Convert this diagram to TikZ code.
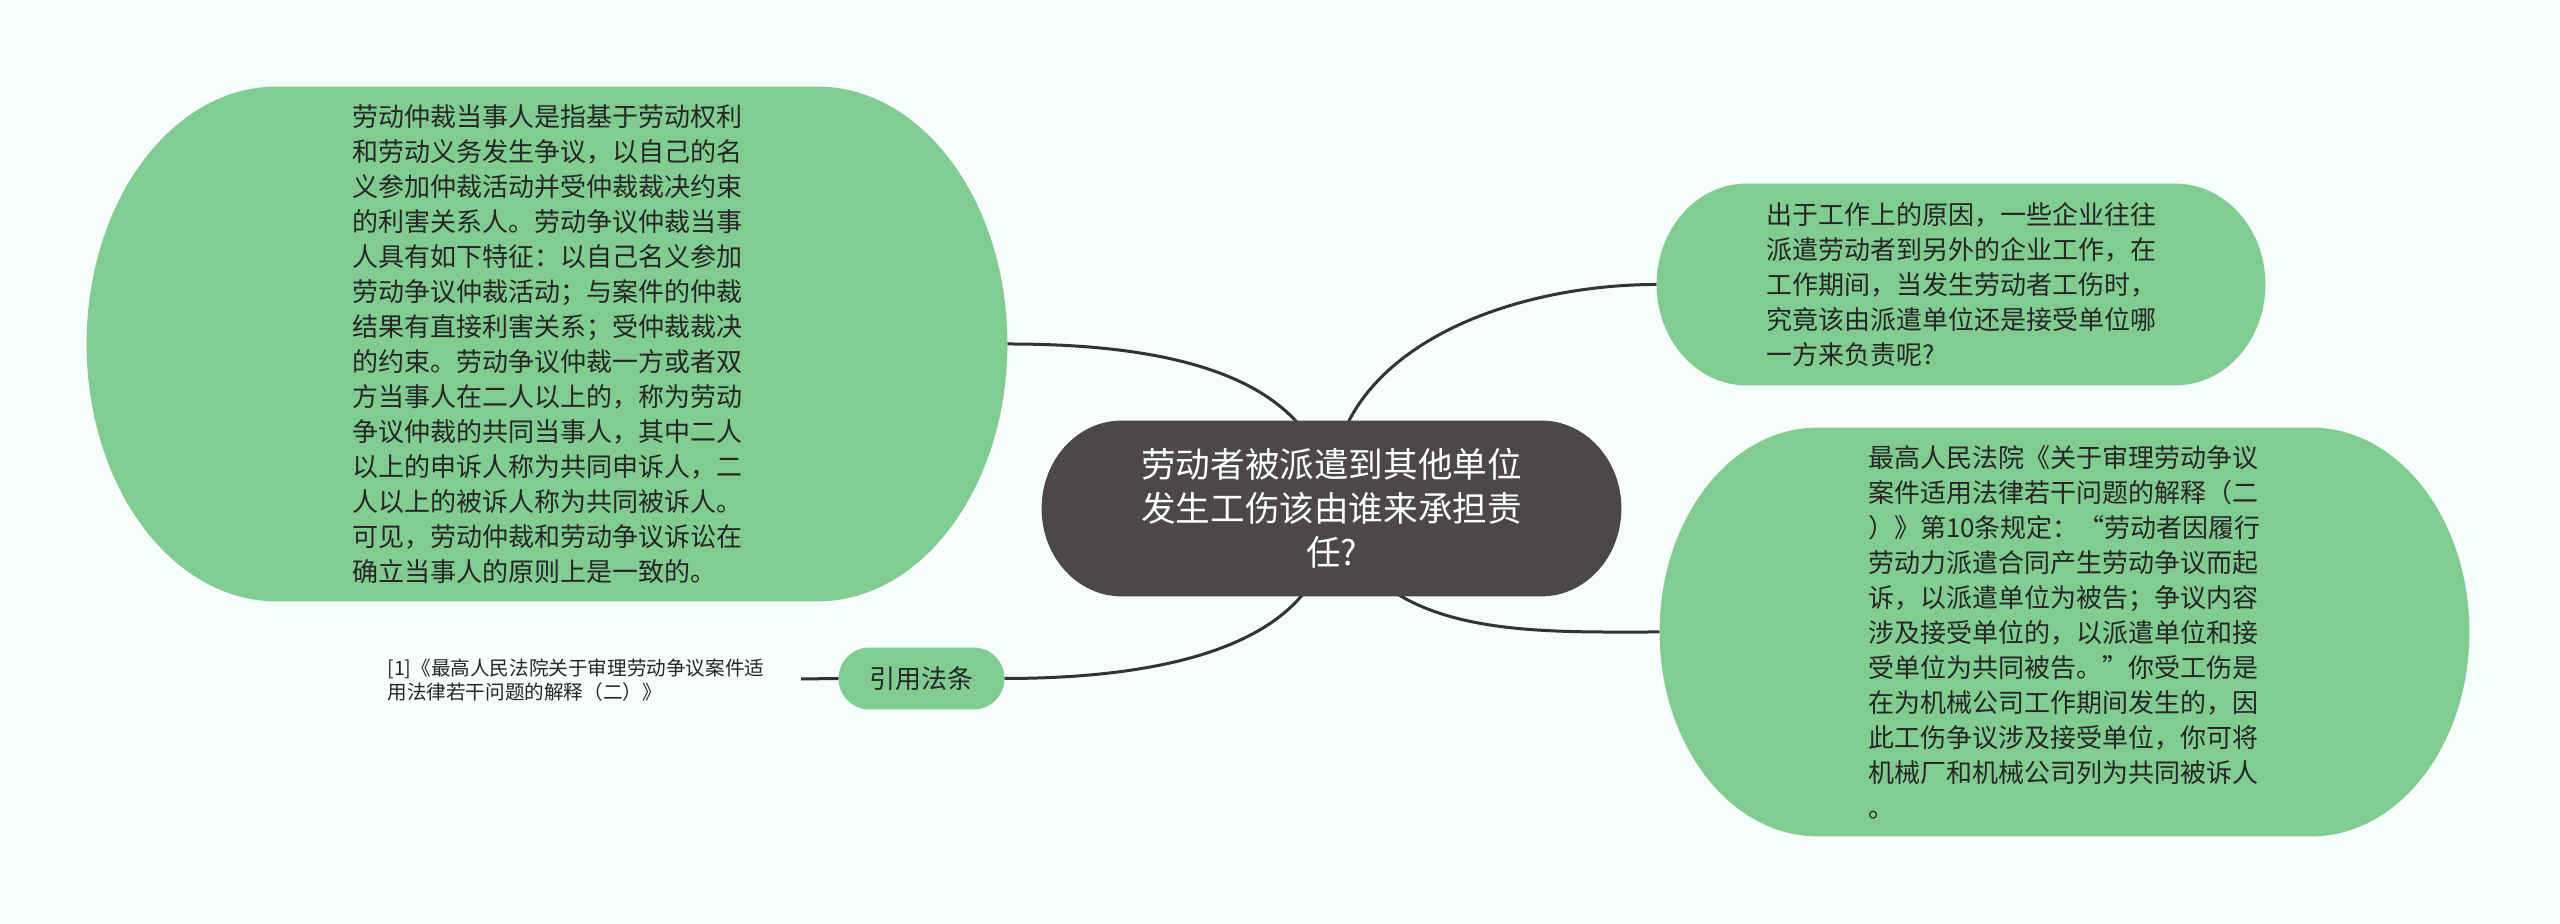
\documentclass[tikz,border=0pt]{standalone}
\usepackage{fontspec}
\setmainfont{Noto Sans CJK SC}
\usetikzlibrary{calc,backgrounds}
\definecolor{bgc}{HTML}{F7FCFC}
\definecolor{leaf}{HTML}{80CC91}
\definecolor{rootc}{HTML}{4D4848}
\definecolor{linec}{HTML}{333333}
\definecolor{txt}{HTML}{262626}
\newcommand\pillbg[3]{%
 \fill[#3] let \p1=(#1.north west), \p2=(#1.south east), \n1={(\y1-\y2)/2} in
 (\x1+#2,\y1) -- (\x2-#2,\y1)
 arc[start angle=90,end angle=-90,x radius=#2,y radius=\n1]
 -- (\x1+#2,\y2)
 arc[start angle=270,end angle=90,x radius=#2,y radius=\n1] -- cycle;}
\tikzset{
 leaftext/.style={align=left, inner sep=0pt, text=txt,
   font=\fontsize{13pt}{17.5pt}\selectfont},
 roottext/.style={align=center, inner sep=0pt, text=white,
   font=\fontsize{17.3pt}{22pt}\selectfont},
 reftext/.style={align=left, inner sep=0pt, text=txt, anchor=west,
   font=\fontsize{9.8pt}{12.2pt}\selectfont},
 conn/.style={draw=linec, line width=1.5pt},
}
\begin{document}
\begin{tikzpicture}[x=0.5pt,y=0.5pt]
\useasboundingbox (0,0) rectangle (2560,924);
\node[roottext, minimum width=289.5pt, minimum height=87.5pt] (M) at (1331.5,415.5)
 {劳动者被派遣到其他单位\\发生工伤该由谁来承担责\\任?};
\node[leaftext, minimum width=460pt, minimum height=257pt] (L) at (547,580)
 {劳动仲裁当事人是指基于劳动权利\\和劳动义务发生争议，以自己的名\\义参加仲裁活动并受仲裁裁决约束\\的利害关系人。劳动争议仲裁当事\\人具有如下特征：以自己名义参加\\劳动争议仲裁活动；与案件的仲裁\\结果有直接利害关系；受仲裁裁决\\的约束。劳动争议仲裁一方或者双\\方当事人在二人以上的，称为劳动\\争议仲裁的共同当事人，其中二人\\以上的申诉人称为共同申诉人，二\\人以上的被诉人称为共同被诉人。\\可见，劳动仲裁和劳动争议诉讼在\\确立当事人的原则上是一致的。};
\node[leaftext, minimum width=304pt, minimum height=100.5pt] (TR) at (1961,639.5)
 {出于工作上的原因，一些企业往往\\派遣劳动者到另外的企业工作，在\\工作期间，当发生劳动者工伤时，\\究竟该由派遣单位还是接受单位哪\\一方来负责呢?};
\node[leaftext, minimum width=404.5pt, minimum height=204pt] (BR) at (2064.5,292)
 {最高人民法院《关于审理劳动争议\\案件适用法律若干问题的解释（二\\）》第10条规定：“劳动者因履行\\劳动力派遣合同产生劳动争议而起\\诉，以派遣单位为被告；争议内容\\涉及接受单位的，以派遣单位和接\\受单位为共同被告。”你受工伤是\\在为机械公司工作期间发生的，因\\此工伤争议涉及接受单位，你可将\\机械厂和机械公司列为共同被诉人\\。};
\node[leaftext, align=center, minimum width=82.5pt, minimum height=30.5pt] (C) at (921.5,245.5) {引用法条};
\node[reftext] (R) at (387,244)
 {[1]《最高人民法院关于审理劳动争议案件适\\用法律若干问题的解释（二）》};
\coordinate (Rend) at (801,245);
\begin{pgfonlayer}{background}
\fill[bgc] (0,0) rectangle (2560,924);
\draw[conn] (M.center) to[out=93,in=0] (L.east);
\draw[conn] (M.center) to[out=94,in=180] (TR.west);
\draw[conn] (M.center) to[out=-72,in=180] (BR.west);
\draw[conn] (M.center) to[out=-89,in=0] (C.east);
\draw[conn] (C.west) -- (Rend);
\pillbg{L}{95pt}{leaf}
\pillbg{TR}{45pt}{leaf}
\pillbg{BR}{79pt}{leaf}
\pillbg{C}{15.25pt}{leaf}
\pillbg{M}{40pt}{rootc}
\end{pgfonlayer}
\end{tikzpicture}
\end{document}
